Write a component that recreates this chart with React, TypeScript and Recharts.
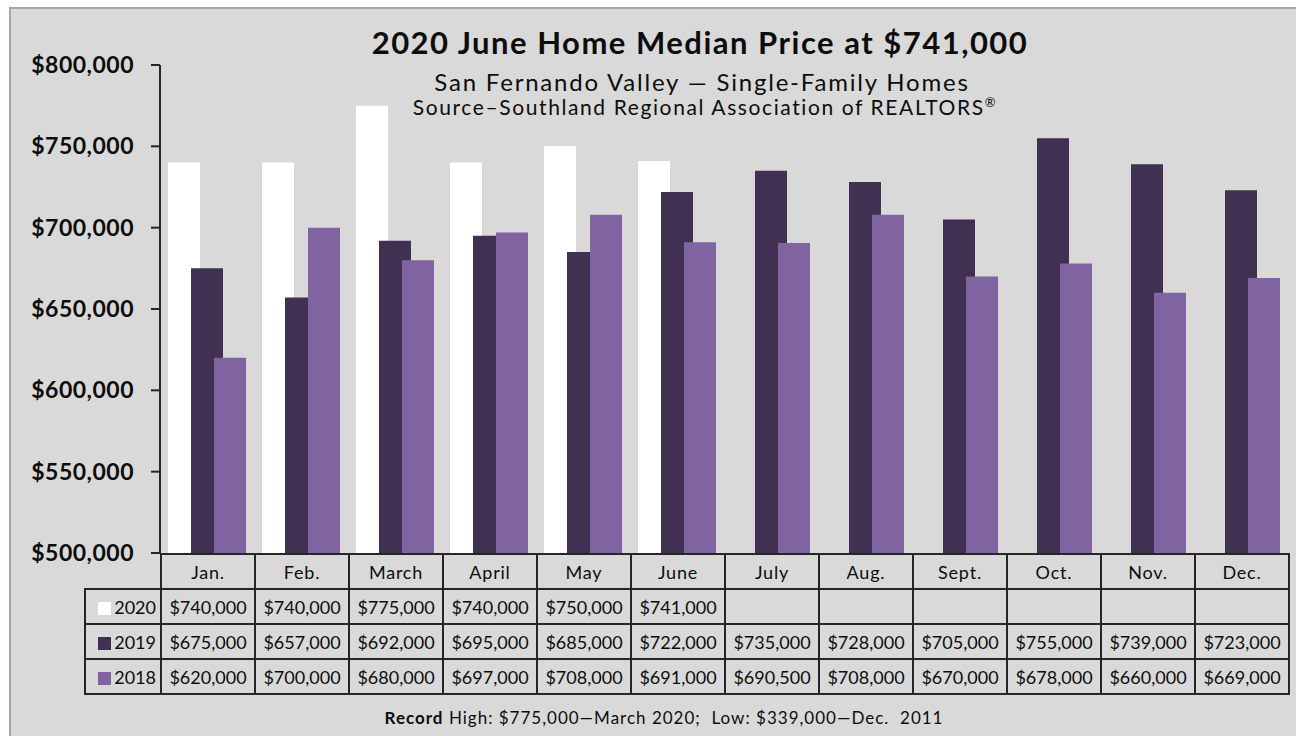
// @ts-nocheck
import React from 'react';
import { BarChart, Bar, XAxis, YAxis } from 'recharts';

const C = {
  bg: '#D9D9D9',
  frame: '#A6A6A6',
  ink: '#0D0D0D',
  line: '#262626',
  y2020: '#FFFFFF',
  y2019: '#403152',
  y2018: '#8064A2',
};

const FONT = 'Lato, "Open Sans", sans-serif';

const MONTHS = ['Jan.', 'Feb.', 'March', 'April', 'May', 'June', 'July', 'Aug.', 'Sept.', 'Oct.', 'Nov.', 'Dec.'];
const P2020 = [740000, 740000, 775000, 740000, 750000, 741000, null, null, null, null, null, null];
const P2019 = [675000, 657000, 692000, 695000, 685000, 722000, 735000, 728000, 705000, 755000, 739000, 723000];
const P2018 = [620000, 700000, 680000, 697000, 708000, 691000, 690500, 708000, 670000, 678000, 660000, 669000];
const Y_TICKS = [500000, 550000, 600000, 650000, 700000, 750000, 800000];

const SERIES = [
  { key: 'y2020', label: '2020', values: P2020, color: C.y2020 },
  { key: 'y2019', label: '2019', values: P2019, color: C.y2019 },
  { key: 'y2018', label: '2018', values: P2018, color: C.y2018 },
];

const DATA = MONTHS.map((m, i) => ({
  month: m,
  y2020: P2020[i],
  y2019: P2019[i],
  y2018: P2018[i],
}));

const fmt = (v) => (v == null ? '' : `$${v.toLocaleString('en-US')}`);

// plot area: x 160..1288, y 65..553
const PLOT_LEFT = 160;
const PLOT_RIGHT = 1288;
const PLOT_BOTTOM = 553;
const CHART_H = 580;
const COL_W = (PLOT_RIGHT - PLOT_LEFT) / MONTHS.length;
const LEG_W = 76;

export default function App() {
  return (
    <div style={{ position: 'absolute', left: 0, top: 0, width: 1296, height: 736, overflow: 'hidden', background: '#fff', fontFamily: FONT }}>
      <div
        style={{
          position: 'absolute',
          left: 9,
          top: 7,
          width: 1300,
          height: 740,
          background: C.bg,
          border: `2px solid ${C.frame}`,
        }}
      />

      <div style={{ position: 'absolute', left: 0, top: 0 }}>
        <BarChart
          width={1296}
          height={CHART_H}
          data={DATA}
          margin={{ top: 65, right: 1296 - PLOT_RIGHT, bottom: CHART_H - PLOT_BOTTOM, left: 0 }}
          barSize={32}
          barGap={-9}
        >
          <XAxis dataKey="month" hide />
          <YAxis
            width={PLOT_LEFT}
            domain={[500000, 800000]}
            ticks={Y_TICKS}
            interval={0}
            tickFormatter={fmt}
            axisLine={{ stroke: C.line, strokeWidth: 2 }}
            tickLine={{ stroke: C.line, strokeWidth: 2 }}
            tickSize={9}
            tickMargin={17}
            tick={{ fontSize: 23, fontWeight: 700, fill: C.ink, fontFamily: FONT, letterSpacing: 0.5 }}
          />
          {SERIES.map((s) => (
            <Bar key={s.key} dataKey={s.key} fill={s.color} isAnimationActive={false} />
          ))}
        </BarChart>
      </div>

      <div style={{ position: 'absolute', left: 0, top: 23, width: 1400, textAlign: 'center', fontSize: 31, lineHeight: '38px', fontWeight: 700, color: C.ink, letterSpacing: 1.5 }}>
        2020 June Home Median Price at $741,000
      </div>
      <div style={{ position: 'absolute', left: 0, top: 68, width: 1404, textAlign: 'center', fontSize: 24, lineHeight: '27px', color: C.ink, letterSpacing: 1.8 }}>
        San Fernando Valley — Single-Family Homes
      </div>
      <div style={{ position: 'absolute', left: 0, top: 95, width: 1410, textAlign: 'center', fontSize: 21, lineHeight: '23px', color: C.ink, letterSpacing: 1.6 }}>
        Source–Southland Regional Association of REALTORS<sup style={{ fontSize: 13, lineHeight: 0 }}>®</sup>
      </div>

      <table
        style={{
          position: 'absolute',
          left: PLOT_LEFT - LEG_W,
          top: PLOT_BOTTOM,
          borderCollapse: 'collapse',
          tableLayout: 'fixed',
          width: LEG_W + COL_W * MONTHS.length,
          fontSize: 18,
          color: C.ink,
          fontFamily: FONT,
        }}
      >
        <colgroup>
          <col style={{ width: LEG_W }} />
          {MONTHS.map((m) => (
            <col key={m} style={{ width: COL_W }} />
          ))}
        </colgroup>
        <tbody>
          <tr style={{ height: 35 }}>
            <td style={{ border: 'none', padding: 0 }} />
            {MONTHS.map((m) => (
              <td key={m} style={{ border: `2px solid ${C.line}`, textAlign: 'center', padding: 0, letterSpacing: 0.8 }}>
                {m}
              </td>
            ))}
          </tr>
          {SERIES.map((s) => (
            <tr key={s.key} style={{ height: 35 }}>
              <td style={{ border: `2px solid ${C.line}`, padding: '0 4px 0 0', textAlign: 'right', whiteSpace: 'nowrap' }}>
                <span style={{ display: 'inline-block', width: 13, height: 13, background: s.color, marginRight: 3, verticalAlign: -1 }} />
                {s.label}
              </td>
              {s.values.map((v, i) => (
                <td key={i} style={{ border: `2px solid ${C.line}`, textAlign: 'center', padding: 0, whiteSpace: 'nowrap' }}>
                  {fmt(v)}
                </td>
              ))}
            </tr>
          ))}
        </tbody>
      </table>

      <div style={{ position: 'absolute', left: 0, top: 707, width: 1328, textAlign: 'center', fontSize: 17, color: C.ink, whiteSpace: 'pre', letterSpacing: 1 }}>
        <b>Record</b> High: $775,000—March 2020;  Low: $339,000—Dec.  2011
      </div>
    </div>
  );
}
